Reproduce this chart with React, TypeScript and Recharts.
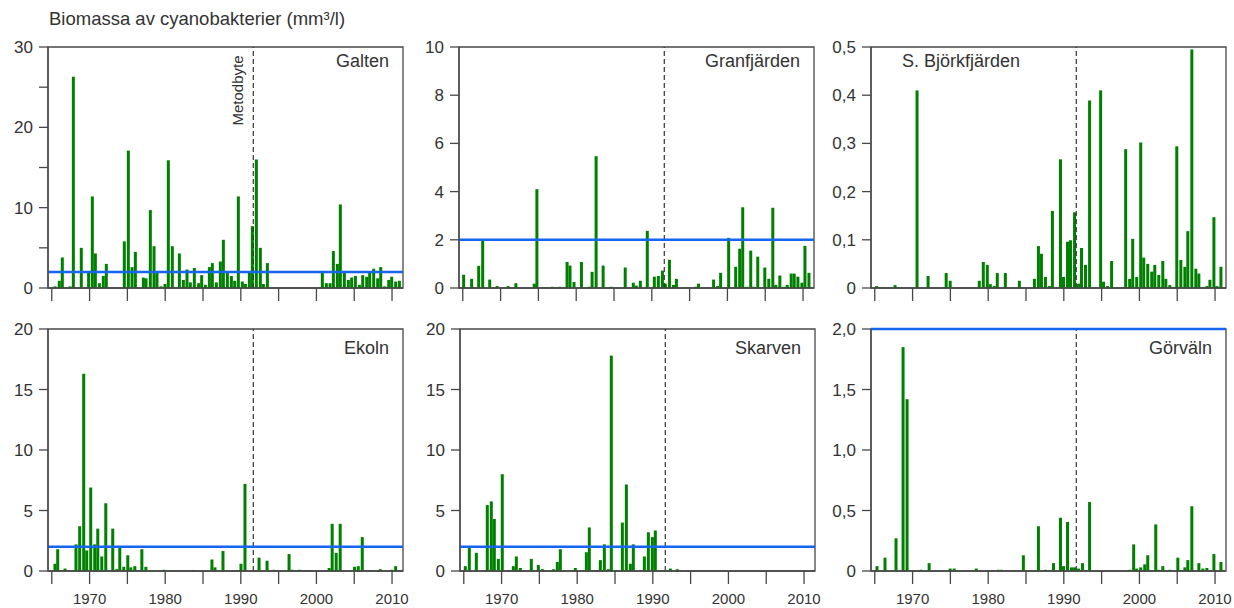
import React from 'react';
import {
  ComposedChart,
  Bar,
  XAxis,
  YAxis,
  ReferenceLine,
  ReferenceArea,
} from 'recharts';

const FONT = '"Liberation Sans", Arial, Helvetica, sans-serif';
const TEXT = '#333333';
const AXIS = '#474747';
const GREEN = '#008000';
const BLUE = '#1565f0';

const X_MIN = 1964.5;
const X_MAX = 2011.45;
const yearTicks = [1965, 1970, 1975, 1980, 1985, 1990, 1995, 2000, 2005, 2010];
const methodChange = 1991.65;
const limit = 2;

// sample dates (decimal year) and biomass (mm3/l) per lake
const galtenYears = [
  1965.44, 1966.01, 1966.41, 1967.43, 1967.87, 1968.92, 1969.89, 1970.38, 1970.78, 1971.31,
  1971.83, 1972.23, 1974.61, 1975.14, 1975.63, 1976.07, 1977.13, 1977.48, 1978.05, 1978.54,
  1978.93, 1979.46, 1979.99, 1980.43, 1980.96, 1981.89, 1982.42, 1982.9, 1983.34, 1983.87,
  1984.44, 1984.84, 1985.33, 1985.86, 1986.25, 1986.78, 1987.31, 1987.71, 1988.24, 1988.77,
  1989.21, 1989.69, 1990.22, 1990.62, 1991.15, 1991.54, 1992.07, 1992.6, 1993.0, 1993.53,
  2000.8, 2001.33, 2001.82, 2002.26, 2002.79, 2003.18, 2003.71, 2004.24, 2004.68, 2005.17,
  2005.7, 2006.14, 2006.67, 2007.06, 2007.59, 2008.12, 2008.52, 2009.05, 2009.58, 2009.97,
  2010.5, 2010.99,
];
const galtenValues = [
  0.2, 0.9, 3.8, 0.2, 26.3, 5.0, 1.9, 11.4, 4.3, 0.6,
  1.5, 3.0, 5.8, 17.1, 2.6, 4.5, 1.3, 1.2, 9.7, 5.2,
  2.0, 0.2, 0.5, 15.9, 5.2, 4.3, 1.0, 2.3, 0.7, 2.5,
  0.6, 1.6, 0.4, 2.6, 3.1, 0.7, 3.3, 6.0, 1.9, 1.5,
  0.9, 11.4, 0.8, 0.5, 2.0, 7.7, 16.0, 5.0, 0.5, 3.1,
  2.0, 0.6, 0.6, 4.6, 3.0, 10.4, 2.0, 1.0, 1.3, 1.5,
  0.4, 1.6, 1.4, 1.9, 2.4, 1.2, 2.6, 0.2, 1.0, 1.4,
  0.8, 0.9,
];

const granYears = [
  1965.13, 1966.19, 1967.12, 1967.65, 1968.58, 1969.56, 1971.02, 1972.04, 1974.47, 1974.82,
  1975.88, 1976.86, 1977.83, 1978.81, 1979.2, 1979.73, 1980.71, 1981.73, 1982.12, 1982.65,
  1983.58, 1984.65, 1986.5, 1987.57, 1987.96, 1988.5, 1989.42, 1990.35, 1990.88, 1991.42,
  1991.81, 1992.35, 1992.88, 1993.27, 1994.91, 1995.8, 1996.19, 1998.19, 1998.72, 1999.12,
  2000.18, 2001.11, 2001.64, 2002.04, 2002.57, 2003.1, 2003.5, 2004.03, 2004.96, 2005.49,
  2006.02, 2006.42, 2006.95, 2007.48, 2007.92, 2008.45, 2008.85, 2009.34, 2009.87, 2010.27,
  2010.8,
];
const granValues = [
  0.55, 0.38, 0.92, 2.0, 0.35, 0.08, 0.08, 0.2, 0.18, 4.1,
  0.02, 0.05, 0.05, 1.08, 0.93, 0.25, 1.08, 0.05, 0.67, 5.47,
  0.93, 0.05, 0.85, 0.22, 0.1, 0.3, 2.37, 0.47, 0.5, 0.72,
  0.18, 1.17, 0.13, 0.38, 0.02, 0.05, 0.18, 0.35, 0.08, 0.63,
  2.08, 0.88, 1.63, 3.35, 0.05, 1.55, 0.05, 1.3, 0.85, 0.38,
  3.33, 0.13, 0.52, 0.05, 0.13, 0.6, 0.6, 0.47, 0.22, 1.75,
  0.63,
];

const bjorkYears = [
  1965.27, 1966.24, 1967.7, 1970.61, 1972.07, 1974.46, 1974.99, 1978.84, 1979.37, 1979.9,
  1980.3, 1980.83, 1981.22, 1982.29, 1984.14, 1984.67, 1986.13, 1986.66, 1987.06, 1987.59,
  1988.12, 1988.51, 1989.58, 1989.98, 1990.51, 1990.9, 1991.44, 1991.97, 1992.36, 1992.89,
  1993.43, 1994.89, 1995.28, 1995.81, 1996.34, 1997.8, 1998.2, 1998.73, 1999.13, 1999.66,
  2000.19, 2000.59, 2001.12, 2001.65, 2002.05, 2002.58, 2003.11, 2003.51, 2004.04, 2004.57,
  2004.96, 2005.5, 2006.03, 2006.42, 2006.95, 2007.48, 2007.88, 2008.41, 2008.94, 2009.34,
  2009.87, 2010.27, 2010.8,
];
const bjorkValues = [
  0.004, 0.001, 0.006, 0.41, 0.025, 0.031, 0.015, 0.015, 0.054, 0.048,
  0.008, 0.004, 0.031, 0.031, 0.015, 0.001, 0.019, 0.087, 0.071, 0.023,
  0.004, 0.16, 0.267, 0.023, 0.096, 0.099, 0.157, 0.009, 0.083, 0.048,
  0.389, 0.41, 0.013, 0.004, 0.056, 0.001, 0.288, 0.019, 0.102, 0.023,
  0.302, 0.063, 0.05, 0.034, 0.048, 0.027, 0.056, 0.019, 0.006, 0.002,
  0.294, 0.058, 0.044, 0.118, 0.495, 0.04, 0.03, 0.001, 0.004, 0.017,
  0.147, 0.004, 0.044,
];

const ekolnYears = [
  1965.44, 1965.8, 1966.77, 1968.22, 1968.71, 1969.24, 1969.64, 1970.17, 1970.7, 1971.1,
  1971.63, 1972.16, 1973.08, 1973.61, 1974.01, 1974.54, 1975.07, 1975.47, 1976.0, 1976.93,
  1977.46, 1979.84, 1983.68, 1986.2, 1986.6, 1987.66, 1989.51, 1990.04, 1990.57, 1992.43,
  1993.49, 1994.42, 1996.4, 1996.8, 1997.77, 1998.79, 2001.7, 2002.1, 2002.63, 2003.16,
  2005.06, 2005.55, 2006.08, 2007.0, 2008.46, 2009.96, 2010.49,
];
const ekolnValues = [
  0.6, 1.8, 0.2, 2.2, 3.7, 16.3, 1.7, 6.9, 2.2, 3.5,
  1.2, 5.6, 3.5, 0.15, 2.0, 0.35, 1.3, 0.3, 0.4, 1.8,
  0.35, 0.1, 0.08, 0.95, 0.3, 1.65, 0.08, 0.6, 7.2, 1.1,
  0.85, 0.1, 1.4, 0.1, 0.1, 0.08, 0.25, 3.9, 1.5, 3.9,
  0.35, 0.4, 2.8, 0.08, 0.15, 0.1, 0.4,
];

const skarvenYears = [
  1965.22, 1965.75, 1966.68, 1968.13, 1968.66, 1969.06, 1969.59, 1970.11, 1971.04, 1971.57,
  1971.97, 1972.5, 1973.95, 1974.88, 1975.41, 1976.86, 1977.39, 1977.79, 1979.77, 1980.7,
  1981.23, 1981.62, 1982.68, 1983.08, 1983.61, 1984.14, 1984.53, 1985.06, 1985.99, 1986.52,
  1987.05, 1987.44, 1988.5, 1988.9, 1989.43, 1989.96, 1990.35, 1992.34, 1993.26,
];
const skarvenValues = [
  0.4, 2.0, 1.5, 5.45, 5.75, 4.3, 1.0, 8.0, 0.05, 0.4,
  1.2, 0.25, 1.0, 0.5, 0.15, 0.15, 0.75, 1.8, 0.25, 0.05,
  1.55, 3.6, 0.05, 0.9, 2.2, 0.15, 17.8, 0.05, 4.0, 7.15,
  0.6, 2.2, 0.05, 1.2, 3.2, 2.8, 3.35, 0.2, 0.15,
];

const gorvalnYears = [
  1965.31, 1966.37, 1967.83, 1968.76, 1969.29, 1970.22, 1971.15, 1972.21, 1974.99, 1975.52,
  1978.44, 1979.9, 1981.36, 1981.76, 1984.67, 1986.66, 1987.59, 1988.65, 1989.58, 1989.98,
  1990.51, 1991.04, 1991.44, 1991.97, 1992.5, 1993.43, 1998.73, 1999.26, 1999.66, 2000.19,
  2000.72, 2001.12, 2002.18, 2002.58, 2003.11, 2004.04, 2005.1, 2006.03, 2006.42, 2006.95,
  2007.88, 2008.41, 2008.94, 2009.87, 2010.8,
];
const gorvalnValues = [
  0.04, 0.11, 0.27, 1.85, 1.42, 0.003, 0.01, 0.065, 0.02, 0.02,
  0.02, 0.003, 0.01, 0.01, 0.13, 0.37, 0.01, 0.065, 0.44, 0.04,
  0.405, 0.03, 0.03, 0.02, 0.065, 0.57, 0.01, 0.22, 0.02, 0.03,
  0.055, 0.13, 0.385, 0.01, 0.04, 0.01, 0.11, 0.03, 0.09, 0.535,
  0.065, 0.02, 0.025, 0.14, 0.075,
];

const comma = (digits: number) => (v: number) =>
  v === 0 ? '0' : v.toFixed(digits).replace('.', ',');

interface PanelDef {
  name: string;
  years: number[];
  values: number[];
  yMax: number;
  yTicks: number[];
  yLabel: (v: number) => string;
  left: number;
  top: number;
  plotH: number;
  bottomRow: boolean;
  nameLeft?: boolean;
  nameDy: number;
  note?: boolean;
}

const panels: PanelDef[] = [
  {
    name: 'Galten', years: galtenYears, values: galtenValues, yMax: 30,
    yTicks: [0, 5, 10, 15, 20, 25, 30], yLabel: (v) => (v % 10 === 0 ? String(v) : ''),
    left: 48, top: 47, plotH: 241, bottomRow: false, nameDy: 20, note: true,
  },
  {
    name: 'Granfjärden', years: granYears, values: granValues, yMax: 10,
    yTicks: [0, 2, 4, 6, 8, 10], yLabel: (v) => String(v),
    left: 459, top: 47, plotH: 241, bottomRow: false, nameDy: 20,
  },
  {
    name: 'S. Björkfjärden', years: bjorkYears, values: bjorkValues, yMax: 0.5,
    yTicks: [0, 0.1, 0.2, 0.3, 0.4, 0.5], yLabel: comma(1),
    left: 871, top: 47, plotH: 241, bottomRow: false, nameLeft: true, nameDy: 20,
  },
  {
    name: 'Ekoln', years: ekolnYears, values: ekolnValues, yMax: 20,
    yTicks: [0, 5, 10, 15, 20], yLabel: (v) => String(v),
    left: 48, top: 329, plotH: 242, bottomRow: true, nameDy: 25,
  },
  {
    name: 'Skarven', years: skarvenYears, values: skarvenValues, yMax: 20,
    yTicks: [0, 5, 10, 15, 20], yLabel: (v) => String(v),
    left: 460, top: 329, plotH: 242, bottomRow: true, nameDy: 25,
  },
  {
    name: 'Görväln', years: gorvalnYears, values: gorvalnValues, yMax: 2,
    yTicks: [0, 0.5, 1, 1.5, 2], yLabel: comma(1),
    left: 871, top: 329, plotH: 242, bottomRow: true, nameDy: 25,
  },
];

const PLOT_W = 355;
const Y_AXIS_W = 48;
const TOP_PAD = 14;

// fixed 3px wide column centred on the sample date
const barShape = (props: any) => {
  const { x, y, width, height, fill } = props;
  if (!height || height <= 0) return <g />;
  return <rect x={x + width / 2 - 1.5} y={y} width={3} height={height} fill={fill} />;
};

function Panel({ p }: { p: PanelDef }) {
  const data = p.years.map((x, i) => ({ x, v: p.values[i] }));
  const xAxisH = p.bottomRow ? 40 : 20;
  const width = Y_AXIS_W + PLOT_W + 6;
  const height = TOP_PAD + p.plotH + xAxisH;

  const nameLabel = (props: any) => {
    const vb = props.viewBox;
    const x = p.nameLeft ? vb.x + 31 : vb.x + vb.width - 14;
    return (
      <text
        x={x}
        y={vb.y + p.nameDy}
        textAnchor={p.nameLeft ? 'start' : 'end'}
        fontSize={18}
        fontFamily={FONT}
        fill={TEXT}
      >
        {p.name}
      </text>
    );
  };

  const noteLabel = (props: any) => {
    const vb = props.viewBox;
    const x = vb.x - 10;
    const y = vb.y + 43.5;
    return (
      <text
        x={x}
        y={y}
        transform={`rotate(-90 ${x} ${y})`}
        textAnchor="middle"
        fontSize={15}
        fontFamily={FONT}
        fill={TEXT}
      >
        Metodbyte
      </text>
    );
  };

  return (
    <div style={{ position: 'absolute', left: p.left - Y_AXIS_W, top: p.top - TOP_PAD }}>
      <ComposedChart
        width={width}
        height={height}
        data={data}
        margin={{ top: TOP_PAD, right: 6, bottom: 0, left: 0 }}
      >
        <XAxis
          type="number"
          dataKey="x"
          domain={[X_MIN, X_MAX]}
          allowDataOverflow
          ticks={yearTicks}
          interval={0}
          height={xAxisH}
          tickFormatter={(v: number) => (p.bottomRow && v % 10 === 0 ? String(v) : '')}
          tickSize={13}
          tickMargin={9}
          axisLine={{ stroke: AXIS, strokeWidth: 1.3 }}
          tickLine={{ stroke: AXIS, strokeWidth: 1.3 }}
          tick={{ fill: TEXT, fontSize: 15, fontFamily: FONT }}
        />
        <YAxis
          type="number"
          domain={[0, p.yMax]}
          allowDataOverflow
          ticks={p.yTicks}
          interval={0}
          width={Y_AXIS_W}
          tickFormatter={p.yLabel}
          tickSize={9}
          tickMargin={6}
          axisLine={{ stroke: AXIS, strokeWidth: 1.3 }}
          tickLine={{ stroke: AXIS, strokeWidth: 1.3 }}
          tick={{ fill: TEXT, fontSize: 17, fontFamily: FONT }}
        />
        <ReferenceArea
          x1={X_MIN}
          x2={X_MAX}
          y1={0}
          y2={p.yMax}
          fill="none"
          fillOpacity={0}
          stroke={AXIS}
          strokeWidth={1.3}
          label={nameLabel}
        />
        <ReferenceLine
          x={methodChange}
          stroke="#333"
          strokeWidth={1.2}
          strokeDasharray="5 3"
          label={p.note ? noteLabel : undefined}
        />
        <Bar
          dataKey="v"
          fill={GREEN}
          barSize={3}
          shape={barShape}
          isAnimationActive={false}
        />
        <ReferenceLine y={limit} stroke={BLUE} strokeWidth={2.6} ifOverflow="visible" />
      </ComposedChart>
    </div>
  );
}

export default function App() {
  return (
    <div
      style={{
        position: 'absolute',
        left: 0,
        top: 0,
        width: 1234,
        height: 608,
        background: '#fff',
        fontFamily: FONT,
      }}
    >
      <svg width={420} height={36} style={{ position: 'absolute', left: 0, top: 0 }}>
        <text x={49} y={25} fontSize={18.5} fontFamily={FONT} fill={TEXT}>
          Biomassa av cyanobakterier (mm³/l)
        </text>
      </svg>
      {panels.map((p) => (
        <Panel key={p.name} p={p} />
      ))}
    </div>
  );
}
